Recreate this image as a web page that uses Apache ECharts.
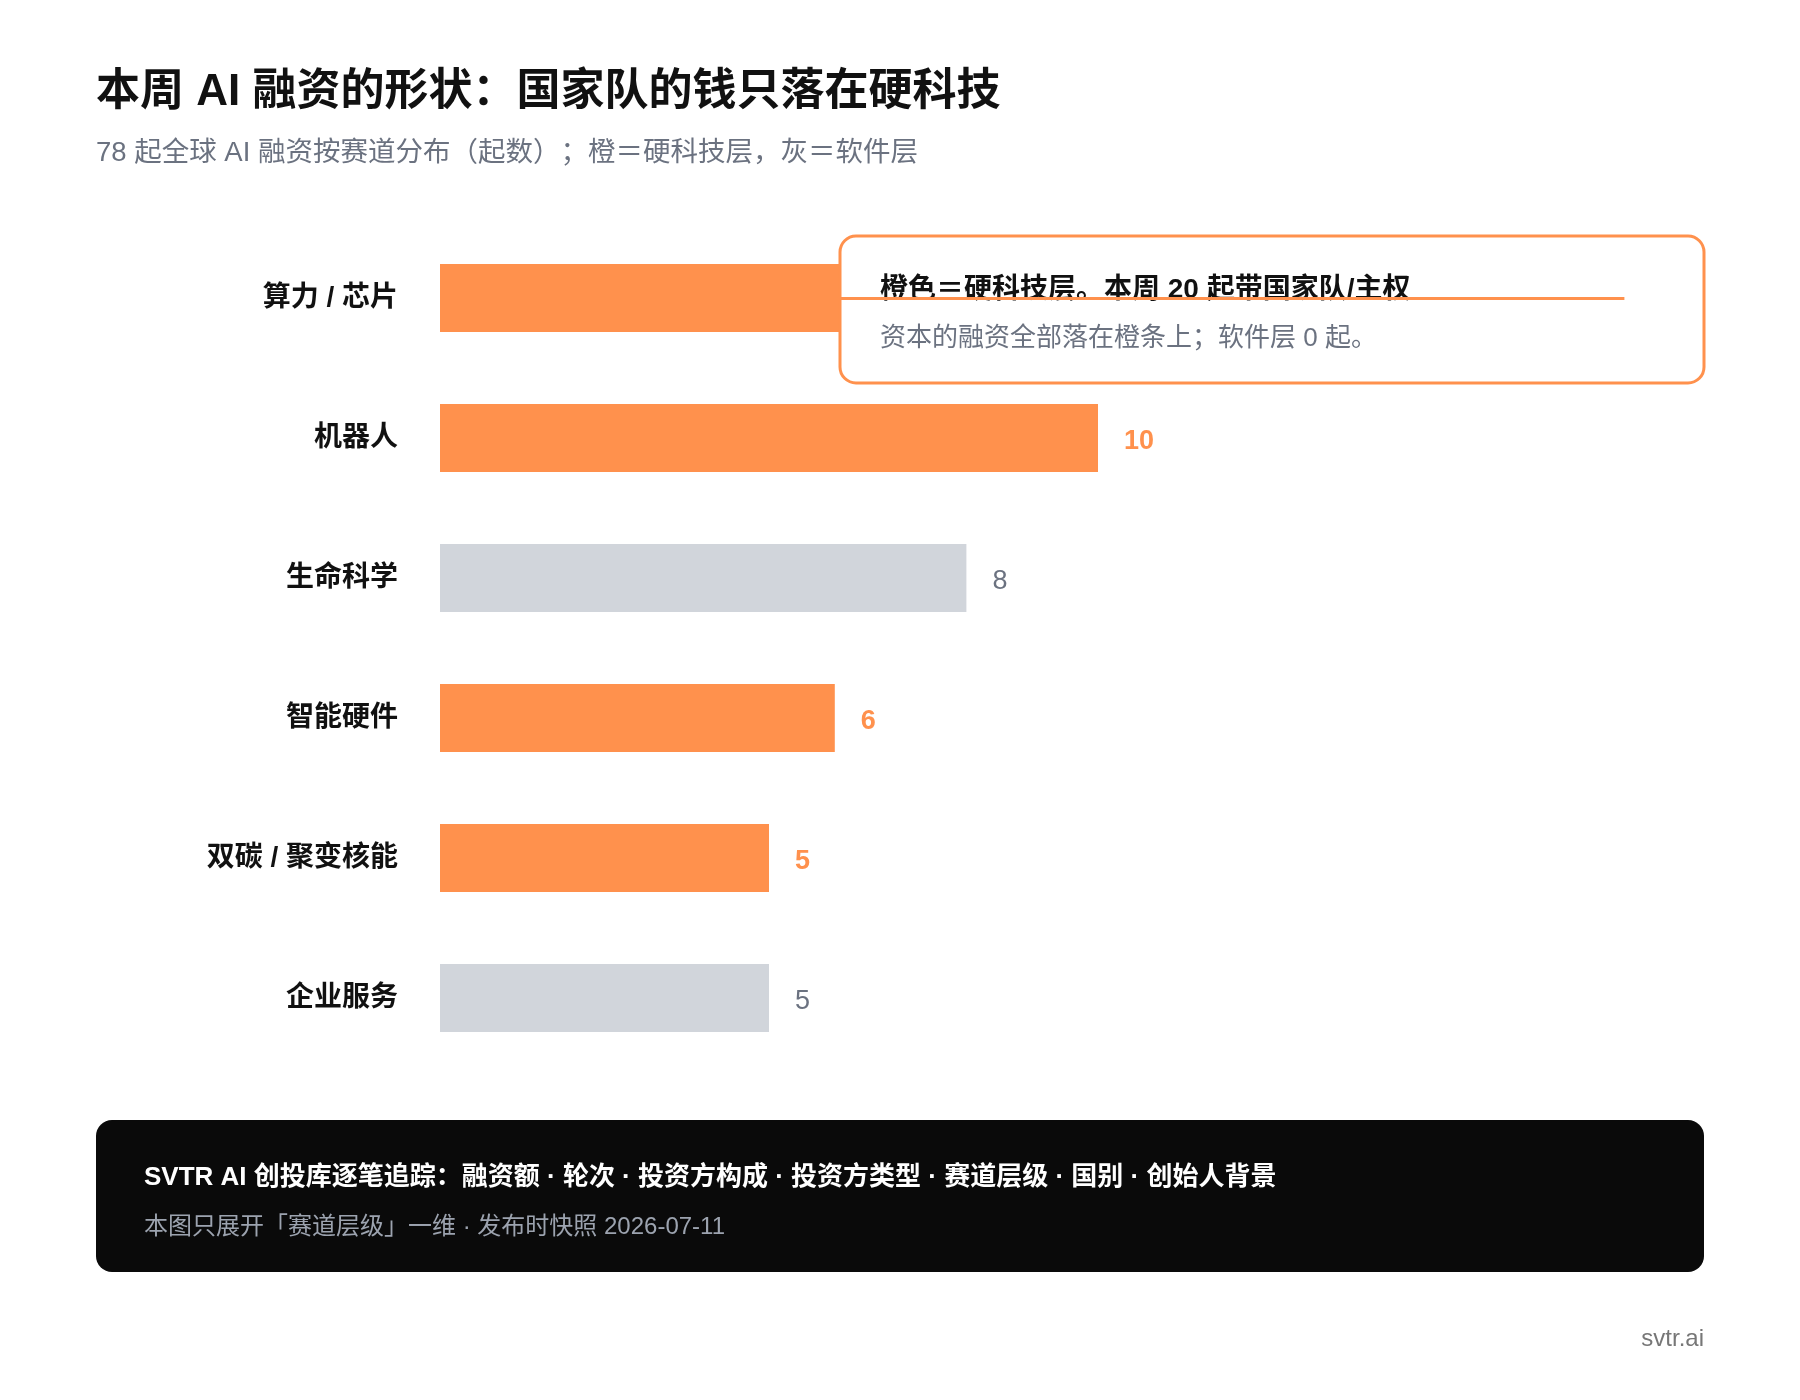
<!DOCTYPE html>
<html>
<head>
<meta charset="utf-8">
<script src="https://cdn.jsdelivr.net/npm/echarts@6/dist/echarts.min.js"></script>
<style>
html,body{margin:0;padding:0;background:#fff;}
#chart{width:1800px;height:1400px;}
</style>
</head>
<body>
<div id="chart"></div>
<script>
// ---- data ----
const categories = ['算力 / 芯片', '机器人', '生命科学', '智能硬件', '双碳 / 聚变核能', '企业服务'];
const values = [18, 10, 8, 6, 5, 5];
const layers = ['hard', 'hard', 'soft', 'hard', 'hard', 'soft'];

const titleText = '本周 AI 融资的形状：国家队的钱只落在硬科技';
const subtitleText = '78 起全球 AI 融资按赛道分布（起数）；橙＝硬科技层，灰＝软件层';
const noteLine1 = '橙色＝硬科技层。本周 20 起带国家队/主权';
const noteLine2 = '资本的融资全部落在橙条上；软件层 0 起。';
const footerLine1 = 'SVTR AI 创投库逐笔追踪：融资额 · 轮次 · 投资方构成 · 投资方类型 · 赛道层级 · 国别 · 创始人背景';
const footerLine2 = '本图只展开「赛道层级」一维 · 发布时快照 2026-07-11';
const brandText = 'svtr.ai';

const ORANGE = '#FF914D';
const GREY_BAR = '#D1D5DB';
const FONT = '"Liberation Sans", "Noto Sans CJK SC", sans-serif';

const chart = echarts.init(document.getElementById('chart'), null, {renderer: 'canvas'});

const seriesData = values.map((v, i) => ({
  value: v,
  itemStyle: {color: layers[i] === 'hard' ? ORANGE : GREY_BAR},
  label: layers[i] === 'hard'
    ? {color: ORANGE, fontWeight: 'bold'}
    : {color: '#6B7280', fontWeight: 'normal'}
}));

const option = {
  backgroundColor: '#ffffff',
  animation: false,
  textStyle: {fontFamily: FONT},
  grid: {left: 440, right: 44, top: 228, height: 840, containLabel: false},
  xAxis: {
    type: 'value', min: 0, max: 20, show: false,
    splitLine: {show: false}
  },
  yAxis: {
    type: 'category', data: categories, inverse: true,
    axisLine: {show: false}, axisTick: {show: false},
    axisLabel: {
      margin: 42, fontSize: 28, fontWeight: 'bold', color: '#111111',
      fontFamily: FONT
    }
  },
  series: [{
    type: 'bar',
    data: seriesData,
    barWidth: 68,
    z: 2,
    label: {
      show: true, position: 'right', distance: 26, offset: [0, 4],
      fontSize: 27, fontFamily: FONT
    },
    markLine: {
      silent: true,
      z: 5,
      symbol: ['none', 'none'],
      label: {show: false},
      lineStyle: {color: ORANGE, width: 3, type: 'solid'},
      data: [[
        {coord: [0, categories[0]]},
        {coord: [values[0], categories[0]]}
      ]]
    }
  }],
  graphic: [
    {type: 'text', left: 96, top: 71, z: 10,
      style: {text: titleText, fill: '#111111', font: 'bold 44px ' + FONT}},
    {type: 'text', left: 96, top: 140, z: 10,
      style: {text: subtitleText, fill: '#6B7280', font: '27.5px ' + FONT}},
    // annotation box
    {type: 'rect', z: 3,
      shape: {x: 840, y: 236, width: 864, height: 147, r: 16},
      style: {fill: '#ffffff', stroke: ORANGE, lineWidth: 3}},
    {type: 'text', z: 4, x: 880, y: 290,
      style: {text: noteLine1, fill: '#111111', font: 'bold 28px ' + FONT, textVerticalAlign: 'middle'}},
    {type: 'text', z: 4, x: 880, y: 339,
      style: {text: noteLine2, fill: '#6B7280', font: '26px ' + FONT, textVerticalAlign: 'middle'}},
    // footer
    {type: 'rect', z: 3,
      shape: {x: 96, y: 1120, width: 1608, height: 152, r: 16},
      style: {fill: '#0A0A0A'}},
    {type: 'text', z: 4, x: 144, y: 1178,
      style: {text: footerLine1, fill: '#ffffff', font: 'bold 26px ' + FONT, textVerticalAlign: 'middle'}},
    {type: 'text', z: 4, x: 144, y: 1227,
      style: {text: footerLine2, fill: '#9CA3AF', font: '24px ' + FONT, textVerticalAlign: 'middle'}},
    {type: 'text', z: 4, x: 1704, y: 1339,
      style: {text: brandText, fill: '#777777', font: '24px ' + FONT, textAlign: 'right', textVerticalAlign: 'middle'}}
  ]
};
chart.setOption(option);
</script>
</body>
</html>
